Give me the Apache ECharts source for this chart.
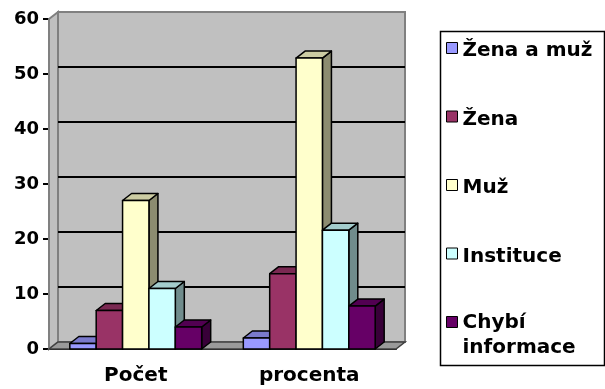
<!DOCTYPE html>
<html>
<head>
<meta charset="utf-8">
<script src="https://cdn.jsdelivr.net/npm/echarts@6/dist/echarts.min.js"></script>
<style>
  html, body { margin: 0; padding: 0; background: #ffffff; }
  #chart { width: 605px; height: 389px; }
</style>
</head>
<body>
<div id="chart"></div>
<script>
// Categories and series values
const categories = ['Počet', 'procenta'];
const seriesNames = ['Žena a muž', 'Žena', 'Muž', 'Instituce', 'Chybí informace'];
const zenaAMuz = [1, 2.0];
const zena = [7, 13.7];
const muz = [27, 52.9];
const instituce = [11, 21.6];
const chybiInformace = [4, 7.8];
const yTicks = [0, 10, 20, 30, 40, 50, 60];

const seriesValues = [zenaAMuz, zena, muz, instituce, chybiInformace];
const colors = ['#9999FF', '#993366', '#FFFFCC', '#CCFFFF', '#660066'];

const FONT = 'DejaVu Sans';
const DX = 9, DY = -7;        // depth offset of the 3D box
const BAR_SHARE = 0.152;      // bar width as a share of the category band

function shade(hex, f) {
  const n = parseInt(hex.slice(1), 16);
  const r = Math.round(((n >> 16) & 255) * f);
  const g = Math.round(((n >> 8) & 255) * f);
  const b = Math.round((n & 255) * f);
  return 'rgb(' + r + ',' + g + ',' + b + ')';
}

// Walls, floor and back-wall gridlines of the 3D box
function renderFrame(params, api) {
  const cs = params.coordSys;
  const x = cs.x, y = cs.y, w = cs.width, h = cs.height;
  const b = y + h;
  const edge = { stroke: '#808080', lineWidth: 2 };
  const kids = [
    { type: 'rect', shape: { x: x + DX, y: y + DY, width: w, height: h },
      style: Object.assign({ fill: '#c0c0c0' }, edge) },
    { type: 'polygon', shape: { points: [[x, y], [x + DX, y + DY], [x + DX, b + DY], [x, b]] },
      style: Object.assign({ fill: '#c0c0c0' }, edge) },
    { type: 'polygon', shape: { points: [[x, b], [x + DX, b + DY], [x + w + DX, b + DY], [x + w, b]] },
      style: { fill: '#9a9a9a', stroke: '#404040', lineWidth: 1.5 } }
  ];
  yTicks.forEach(function (v) {
    if (v <= yTicks[0] || v >= yTicks[yTicks.length - 1]) return;
    const py = api.coord([0, v])[1] + DY;
    kids.push({ type: 'line', shape: { x1: x + DX, y1: py, x2: x + w + DX, y2: py },
      style: { stroke: '#000', lineWidth: 2 } });
  });
  return { type: 'group', children: kids };
}

// 3D column: side face, top face, front face
function barRenderer(k) {
  return function (params, api) {
    const cat = api.value(0), val = api.value(1);
    const band = api.size([1, 0])[0];
    const top = api.coord([cat, val]);
    const base = api.coord([cat, 0]);
    const w = band * BAR_SHARE;
    const x0 = top[0] - 2.5 * w + k * w;
    const x1 = x0 + w;
    const yt = top[1], yb = base[1];
    const c = colors[k];
    const line = { stroke: '#000', lineWidth: 1.5, lineJoin: 'round' };
    return {
      type: 'group',
      children: [
        { type: 'polygon', shape: { points: [[x1, yb], [x1 + DX, yb + DY], [x1 + DX, yt + DY], [x1, yt]] },
          style: Object.assign({ fill: shade(c, 0.55) }, line) },
        { type: 'polygon', shape: { points: [[x0, yt], [x0 + DX, yt + DY], [x1 + DX, yt + DY], [x1, yt]] },
          style: Object.assign({ fill: shade(c, 0.8) }, line) },
        { type: 'rect', shape: { x: x0, y: yt, width: w, height: yb - yt },
          style: Object.assign({ fill: c }, line) }
      ]
    };
  };
}

const series = [{
  type: 'custom',
  name: 'frame',
  silent: true,
  clip: false,
  z: 1,
  data: [[0, 0]],
  renderItem: renderFrame
}];
seriesNames.forEach(function (name, k) {
  series.push({
    type: 'custom',
    name: name,
    clip: false,
    z: 2,
    itemStyle: { color: colors[k] },
    encode: { x: 0, y: 1 },
    data: categories.map(function (c, i) { return [i, seriesValues[k][i]]; }),
    renderItem: barRenderer(k)
  });
});

const labelFont = { fontFamily: FONT, fontWeight: 'bold', color: '#000' };

const option = {
  animation: false,
  backgroundColor: '#ffffff',
  grid: { left: 49, top: 19, width: 347, height: 330 },
  xAxis: {
    type: 'category',
    data: categories,
    axisLine: { lineStyle: { color: '#000', width: 2 } },
    axisTick: { length: 6, lineStyle: { color: '#000', width: 2 } },
    axisLabel: Object.assign({ fontSize: 20, margin: 17 }, labelFont),
    splitLine: { show: false }
  },
  yAxis: {
    type: 'value',
    min: yTicks[0],
    max: yTicks[yTicks.length - 1],
    interval: 10,
    axisLine: { show: true, lineStyle: { color: '#000', width: 2 } },
    axisTick: { show: true, length: 6, lineStyle: { color: '#000', width: 2 } },
    axisLabel: Object.assign({ fontSize: 18, margin: 10 }, labelFont),
    splitLine: { show: false }
  },
  legend: {
    orient: 'vertical',
    left: 446,
    top: 20,
    padding: 0,
    itemWidth: 11,
    itemHeight: 11,
    itemGap: 12.5,
    icon: 'rect',
    itemStyle: { borderColor: '#000', borderWidth: 1 },
    data: seriesNames,
    formatter: function (name) {
      return name === 'Chybí informace' ? '{a|Chybí}\n{b|informace}' : name;
    },
    textStyle: {
      fontFamily: FONT, fontWeight: 'bold', fontSize: 20, color: '#000', lineHeight: 50,
      padding: [6, 0, 0, 0],
      rich: {
        a: { fontFamily: FONT, fontWeight: 'bold', fontSize: 20, color: '#000', lineHeight: 46 },
        b: { fontFamily: FONT, fontWeight: 'bold', fontSize: 20, color: '#000', lineHeight: 4 }
      }
    }
  },
  graphic: [{
    type: 'rect',
    left: 438, top: 29,
    shape: { width: 164, height: 334 },
    style: { fill: 'none', stroke: '#000', lineWidth: 1.5 },
    silent: true
  }],
  series: series
};

const chart = echarts.init(document.getElementById('chart'));
chart.setOption(option);
</script>
</body>
</html>
